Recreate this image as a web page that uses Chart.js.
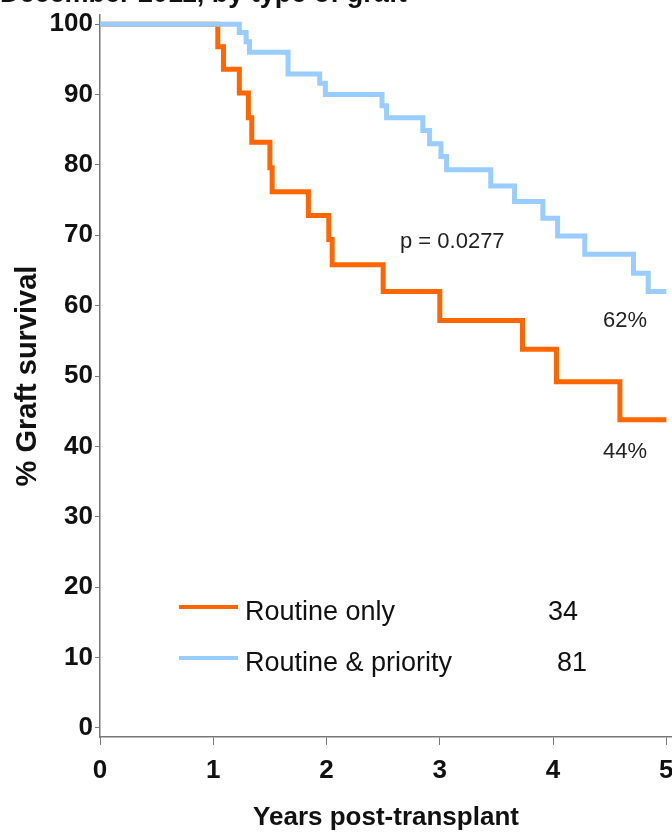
<!DOCTYPE html>
<html>
<head>
<meta charset="utf-8">
<script src="https://cdn.jsdelivr.net/npm/chart.js@4.4.0/dist/chart.umd.min.js"></script>
<style>
  html, body { margin: 0; padding: 0; background: #fff; }
  #wrap { width: 672px; height: 837px; }
</style>
</head>
<body>
<div id="wrap"><canvas id="myChart" width="672" height="837"></canvas></div>
<script>
// Kaplan-Meier steps (years post-transplant, % graft survival)
var routineYears = [0, 1.04, 1.09, 1.23, 1.31, 1.34, 1.50, 1.52, 1.84, 2.02, 2.05, 2.50, 3.00, 3.73, 4.03, 4.59, 5.00];
var routineSurv = [100, 96.8, 93.6, 90.2, 86.7, 83.2, 79.6, 76.2, 72.8, 69.4, 65.8, 62.0, 57.9, 53.8, 49.2, 43.8, 43.8];

var priorityYears = [0, 1.23, 1.29, 1.32, 1.66, 1.94, 1.99, 2.49, 2.53, 2.85, 2.91, 3.01, 3.06, 3.45, 3.66, 3.91, 4.04, 4.28, 4.71, 4.84, 5.00];
var prioritySurv = [100, 98.8, 97.5, 96.0, 92.9, 91.6, 90.0, 88.4, 86.7, 84.9, 83.0, 81.2, 79.3, 77.0, 74.8, 72.4, 69.9, 67.3, 64.6, 62.0, 62.0];

var groupNames = ["Routine only", "Routine & priority"];
var groupCounts = ["34", "81"];
var groupColors = ["#FF6600", "#99CCFF"];

var xTicks = [0, 1, 2, 3, 4, 5];
var yTicks = [0, 10, 20, 30, 40, 50, 60, 70, 80, 90, 100];

var pValueText = "p = 0.0277";
var endLabels = ["44%", "62%"];
var titleText = "December 2011, by type of graft";

var SANS = "'Liberation Sans', Arial, sans-serif";

function toPoints(xs, ys) {
  return xs.map(function (x, i) { return { x: x, y: ys[i] }; });
}

// extra texts: cut-off title, p value, end labels and the legend with counts
var annotations = {
  id: "annotations",
  afterDraw: function (chart) {
    var c = chart.ctx;
    c.save();
    c.fillStyle = "#111";
    c.textBaseline = "alphabetic";
    c.textAlign = "left";

    c.font = "bold 27px " + SANS;
    c.fillText(titleText, 0, 2);

    c.font = "22px " + SANS;
    c.fillStyle = "#222";
    c.fillText(pValueText, 400, 248);
    c.fillText(endLabels[1], 603, 327);
    c.fillText(endLabels[0], 603, 458);

    // legend
    var rows = [{ y: 607, base: 620, countX: 578 }, { y: 658, base: 671, countX: 587 }];
    [0, 1].forEach(function (i) {
      c.strokeStyle = groupColors[i];
      c.lineWidth = 4;
      c.beginPath();
      c.moveTo(179, rows[i].y);
      c.lineTo(238, rows[i].y);
      c.stroke();
      c.fillStyle = "#111";
      c.font = "27px " + SANS;
      c.textAlign = "left";
      c.fillText(groupNames[i], 245, rows[i].base);
      c.textAlign = "right";
      c.fillText(groupCounts[i], rows[i].countX, rows[i].base);
    });
    c.restore();
  }
};

var ctx = document.getElementById("myChart").getContext("2d");
var myChart = new Chart(ctx, {
  type: "line",
  data: {
    datasets: [
      {
        label: groupNames[1],
        data: toPoints(priorityYears, prioritySurv),
        borderColor: groupColors[1],
        borderWidth: 5,
        stepped: true,
        pointRadius: 0,
        borderCapStyle: "butt",
        borderJoinStyle: "miter",
        fill: false
      },
      {
        label: groupNames[0],
        data: toPoints(routineYears, routineSurv),
        borderColor: groupColors[0],
        borderWidth: 5,
        stepped: true,
        pointRadius: 0,
        borderCapStyle: "butt",
        borderJoinStyle: "miter",
        fill: false
      }
    ]
  },
  options: {
    responsive: false,
    animation: false,
    layout: { padding: { top: 15, right: 0, bottom: 0, left: 0 } },
    plugins: {
      legend: { display: false },
      tooltip: { enabled: false }
    },
    scales: {
      x: {
        type: "linear",
        min: 0,
        max: 5.05,
        afterBuildTicks: function (scale) {
          scale.ticks = xTicks.map(function (v) { return { value: v }; });
        },
        afterFit: function (scale) {
          scale.height = 100;
          scale.paddingLeft = 0;
          scale.paddingRight = 0;
        },
        ticks: {
          color: "#111",
          padding: 10,
          maxRotation: 0,
          font: { family: SANS, size: 26, weight: "bold" }
        },
        grid: { drawOnChartArea: false, tickLength: 8, color: "#777" },
        border: { color: "#777", width: 1.5 },
        title: {
          display: true,
          text: "Years post-transplant",
          color: "#111",
          font: { family: SANS, size: 26, weight: "bold" },
          padding: { top: 0, bottom: 4 }
        }
      },
      y: {
        type: "linear",
        min: -1.3,
        max: 101.3,
        afterBuildTicks: function (scale) {
          scale.ticks = yTicks.map(function (v) { return { value: v }; });
        },
        afterFit: function (scale) {
          scale.width = 100;
          scale.paddingTop = 0;
          scale.paddingBottom = 0;
        },
        ticks: {
          color: "#111",
          padding: 2,
          font: { family: SANS, size: 26, weight: "bold" }
        },
        grid: { drawOnChartArea: false, tickLength: 5, color: "#777" },
        border: { color: "#777", width: 1.5 },
        title: {
          display: true,
          text: "% Graft survival",
          color: "#111",
          font: { family: SANS, size: 29, weight: "bold" },
          padding: { top: 11, bottom: 0 }
        }
      }
    }
  },
  plugins: [annotations]
});
</script>
</body>
</html>
